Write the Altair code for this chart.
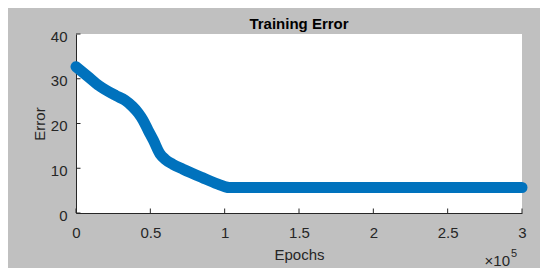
import altair as alt
import pandas as pd

# Data
epochs = [0, 8000, 15700, 27000, 33000, 38000, 42000, 45000, 48500, 52000,
          56500, 60000, 65000, 72000, 85000, 95000, 100000, 103000,
          150000, 200000, 250000, 300000]
error = [32.7, 30.5, 28.4, 26.2, 25.2, 23.8, 22.3, 20.8, 18.5, 16.3,
         13.2, 12.0, 10.9, 9.8, 7.9, 6.5, 5.9, 5.7,
         5.7, 5.7, 5.7, 5.7]
x_ticks = [0, 50000, 100000, 150000, 200000, 250000, 300000]
y_ticks = [0, 10, 20, 30, 40]
exp_base = ["×10"]
exp_power = ["5"]

FONT = "Liberation Sans"
AX = "#262626"

df = pd.DataFrame({"Epochs": epochs, "Error": error})
xt = pd.DataFrame({"Epochs": x_ticks})
yt = pd.DataFrame({"Error": y_ticks})

xscale = alt.Scale(domain=[0, 300000], nice=False, zero=False)
yscale = alt.Scale(domain=[0, 40], nice=False)

xaxis = alt.Axis(values=x_ticks, labelExpr="datum.value/100000",
                 title="Epochs", titleX=223, titleY=46,
                 titleBaseline="alphabetic", titleAlign="center",
                 labelPadding=12, labelBaseline="top", labelFlush=False)
yaxis = alt.Axis(values=y_ticks, title="Error", titleX=-37,
                 titleY=89.5, titleAngle=-90, titleBaseline="middle",
                 titleAlign="center", labelPadding=9, labelOffset=2,
                 labelFlush=False)

line = alt.Chart(df).mark_line(
    color="#0072BD", strokeWidth=11, strokeCap="round", strokeJoin="round",
    interpolate="monotone"
).encode(
    x=alt.X("Epochs:Q", scale=xscale, axis=xaxis),
    y=alt.Y("Error:Q", scale=yscale, axis=yaxis),
)

xtick = alt.Chart(xt).mark_rule(color=AX, strokeWidth=1).encode(
    x=alt.X("Epochs:Q", scale=xscale, axis=xaxis),
    y=alt.value(179), y2=alt.value(174.5),
)
ytick = alt.Chart(yt).mark_rule(color=AX, strokeWidth=1).encode(
    y=alt.Y("Error:Q", scale=yscale, axis=yaxis),
    x=alt.value(0), x2=alt.value(4.5),
)

base_txt = alt.Chart(pd.DataFrame({"s": exp_base})).mark_text(
    font=FONT, fontSize=15, color=AX, align="right", baseline="alphabetic"
).encode(x=alt.value(434), y=alt.value(232), text="s:N")
pow_txt = alt.Chart(pd.DataFrame({"s": exp_power})).mark_text(
    font=FONT, fontSize=11, color=AX, align="left", baseline="alphabetic"
).encode(x=alt.value(435), y=alt.value(223), text="s:N")

chart = alt.layer(line, xtick, ytick, base_txt, pow_txt).properties(
    width=446, height=179,
    autosize=alt.AutoSizeParams(type="none"),
    padding={"left": 68, "top": 26, "right": 18, "bottom": 55},
    background="#c0c0c0",
    title=alt.TitleParams("Training Error", fontSize=15, fontWeight="bold",
                          font=FONT, color="black", anchor="middle",
                          offset=6, dy=9),
).configure_view(stroke=None, fill="white").configure_axis(
    grid=False, ticks=False, domainColor=AX, domainWidth=1,
    labelFont=FONT, labelFontSize=15, labelColor=AX,
    titleFont=FONT, titleFontSize=15, titleColor=AX, titleFontWeight="normal",
)

chart.save("out.html", embed_options={"renderer": "svg", "actions": False})
